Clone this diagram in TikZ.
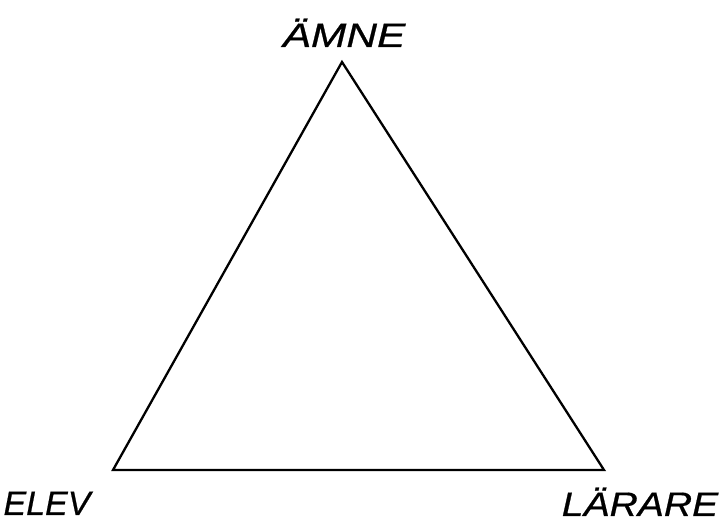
\documentclass[tikz,border=0pt]{standalone}
\usepackage{fontspec}
\setmainfont{Liberation Sans}
\newfontfamily\lblfont[FakeBold=0.6]{Liberation Sans Italic}
\begin{document}
\begin{tikzpicture}[x=1pt,y=1pt,
  lbl/.style={font=\lblfont\fontsize{34}{38}\selectfont, inner sep=0pt, anchor=base},
  edge/.style={line width=2.3pt, line join=miter}]
\useasboundingbox (0,0) rectangle (721,522);
\coordinate (top) at (342,460);
\coordinate (bl) at (113,52);
\coordinate (br) at (604,52);
\draw[edge] (top) -- (bl) -- (br) -- cycle;
\node[lbl, xscale=1.25] (amne) at (344,475) {ÄMNE};
\node[lbl] (elev) at (47,7) {ELEV};
\node[lbl, xscale=1.15] (larare) at (640,6) {LÄRARE};
\end{tikzpicture}
\end{document}
